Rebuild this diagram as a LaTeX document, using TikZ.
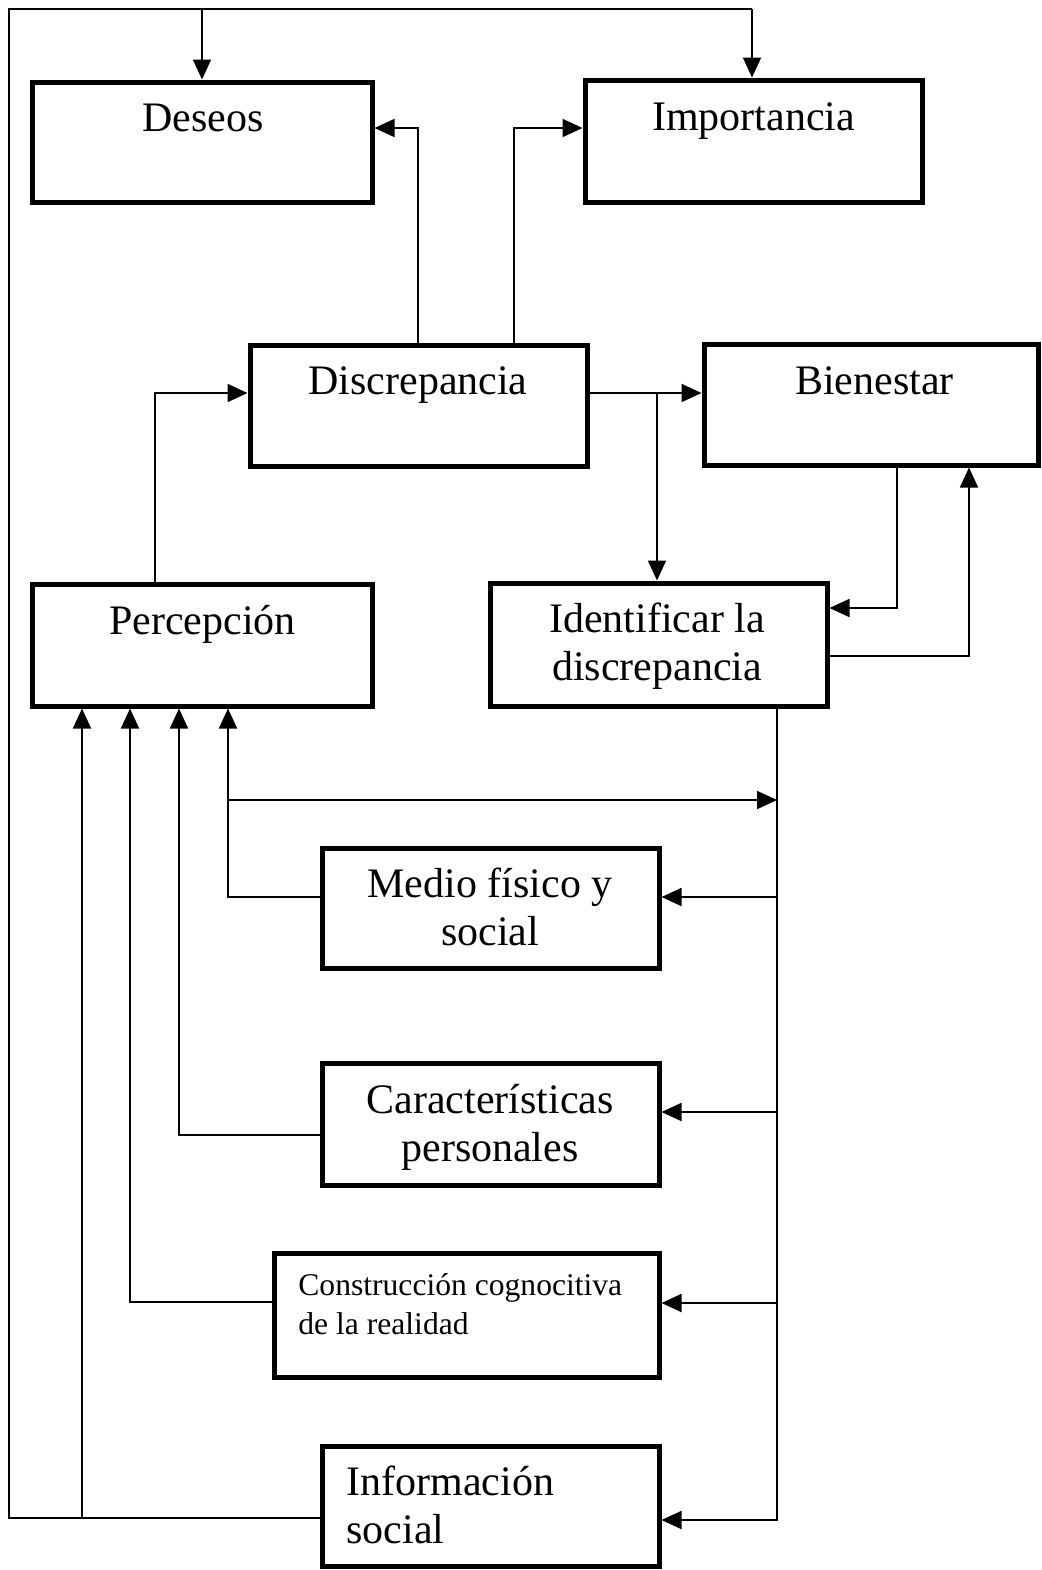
\documentclass[tikz,border=0pt]{standalone}
\usepackage{fontspec}
\setmainfont{Liberation Serif}
\usetikzlibrary{arrows.meta,calc}
\begin{document}
\begin{tikzpicture}[x=0.5pt,y=-0.5pt,
  box/.style={draw, line width=2.5pt, inner sep=0pt},
  sz/.style 2 args={minimum width=#1*0.5pt, minimum height=#2*0.5pt},
  lbl/.style={inner sep=0pt, font=\fontsize{21}{24}\selectfont, align=center},
  slbl/.style={inner sep=0pt, font=\fontsize{15.8}{19.5}\selectfont, align=left},
  con/.style={line width=0.9pt},
  arr/.style={con, -{Triangle[length=10pt,width=9pt]}},
]
\useasboundingbox (0,0) rectangle (1041,1570);

% boxes
\node[box, sz={340}{120}] (des) at (202,142) {};
\node[box, sz={337}{122}] (imp) at (753.5,141) {};
\node[box, sz={337}{121}] (dis) at (418.5,405.5) {};
\node[box, sz={334}{121}] (bie) at (871,404.5) {};
\node[box, sz={340}{122}] (per) at (202,645) {};
\node[box, sz={337}{123}] (ide) at (658.5,644.5) {};
\node[box, sz={337}{120}] (med) at (490.5,908) {};
\node[box, sz={337}{122}] (car) at (490.5,1124) {};
\node[box, sz={385}{124}] (cog) at (466.5,1315) {};
\node[box, sz={337}{120}] (inf) at (490.5,1506) {};

% labels
\node[lbl, anchor=base] (tdes) at (203,131) {Deseos};
\node[lbl, anchor=base] (timp) at (753.5,130) {Importancia};
\node[lbl, anchor=base] (tdis) at (418,394) {Discrepancia};
\node[lbl, anchor=base] (tbie) at (874.5,394) {Bienestar};
\node[lbl, anchor=base] (tper) at (202.5,634) {Percepción};
\node[lbl, anchor=north] (tide) at (657,603) {Identificar la\\discrepancia};
\node[lbl, anchor=north] (tmed) at (490,868) {Medio físico y\\social};
\node[lbl, anchor=north] (tcar) at (490,1084) {Características\\personales};
\node[slbl, anchor=north west] (tcog) at (298,1273) {Construcción cognocitiva\\de la realidad};
\node[lbl, anchor=north west, align=left] (tinf) at (346,1466) {Información\\social};

% outer frame
\coordinate (bl) at (9,1518);
\coordinate (tl) at (9,9);
\coordinate (tr) at (752,9);
\coordinate (td) at (202,9);
\coordinate (b82) at (82,1518);
\draw[con] (inf.west |- bl) -- (bl) -- (tl) -- (tr);
\draw[arr] (tr) -- (tr |- imp.north);
\draw[arr] (td) -- (td |- des.north);
\draw[arr] (b82) -- (b82 |- per.south);

% discrepancia to deseos / importancia
\coordinate (d1) at (418,128);
\coordinate (d2) at (514,128);
\draw[arr] (d1 |- dis.north) -- (d1) -- (d1 -| des.east);
\draw[arr] (d2 |- dis.north) -- (d2) -- (d2 -| imp.west);

% percepcion to discrepancia
\coordinate (p1) at (155,393);
\draw[arr] (p1 |- per.north) -- (p1) -- (p1 -| dis.west);

% discrepancia to bienestar / identificar
\coordinate (e1) at (657,393);
\draw[arr] (e1 -| dis.east) -- (e1 -| bie.west);
\draw[arr] (e1) -- (e1 |- ide.north);

% bienestar <-> identificar
\coordinate (b1) at (897,608);
\coordinate (b2) at (969,656);
\draw[arr] (b1 |- bie.south) -- (b1) -- (b1 -| ide.east);
\draw[arr] (b2 -| ide.east) -- (b2) -- (b2 |- bie.south);

% bus from identificar
\coordinate (s1) at (777,1520);
\coordinate (s2) at (777,897);
\coordinate (s3) at (777,1112);
\coordinate (s4) at (777,1303);
\draw[arr] (s1 |- ide.south) -- (s1) -- (s1 -| inf.east);
\draw[arr] (s2) -- (s2 -| med.east);
\draw[arr] (s3) -- (s3 -| car.east);
\draw[arr] (s4) -- (s4 -| cog.east);

% inputs to percepcion
\coordinate (m1) at (228,897);
\coordinate (m2) at (228,800);
\coordinate (c1) at (179,1135);
\coordinate (g1) at (130,1302);
\draw[arr] (m1 -| med.west) -- (m1) -- (m1 |- per.south);
\draw[arr] (m2) -- (m2 -| s1);
\draw[arr] (c1 -| car.west) -- (c1) -- (c1 |- per.south);
\draw[arr] (g1 -| cog.west) -- (g1) -- (g1 |- per.south);
\end{tikzpicture}
\end{document}
